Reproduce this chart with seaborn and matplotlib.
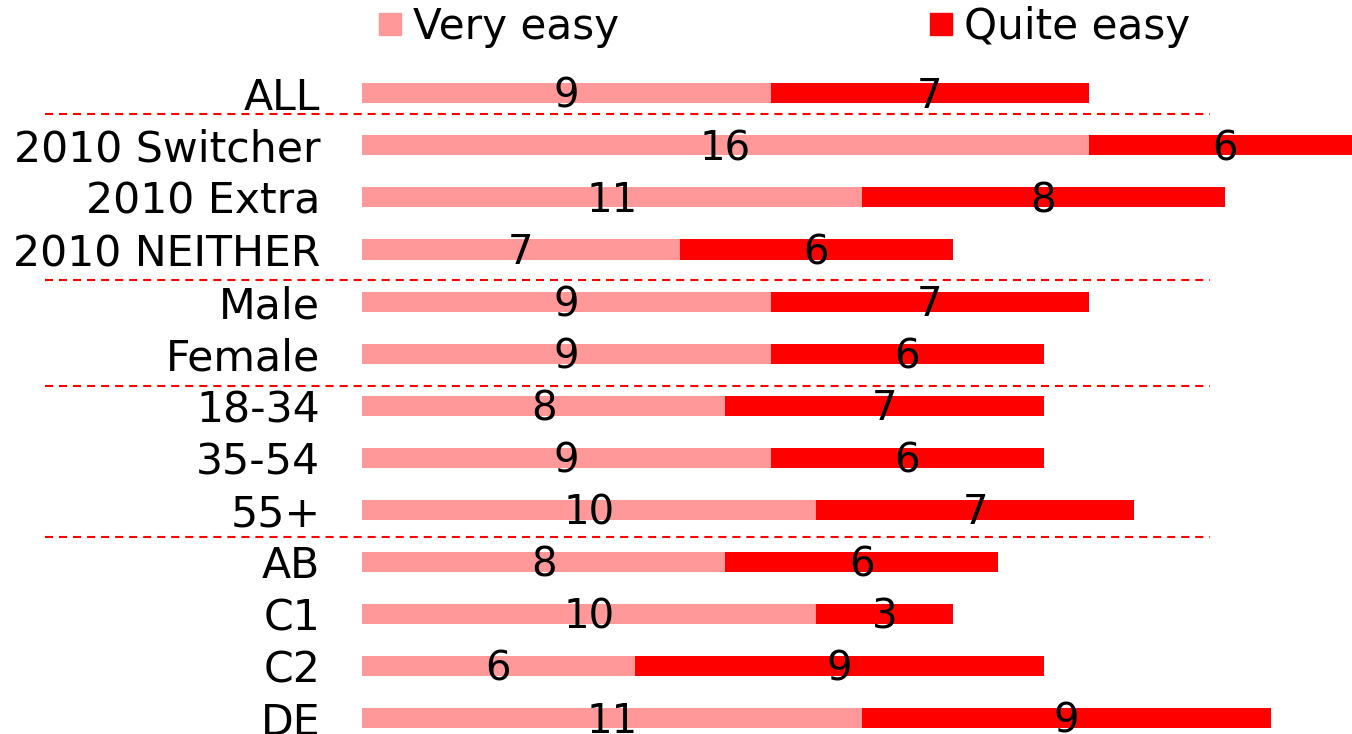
import matplotlib
matplotlib.use("Agg")
import matplotlib.pyplot as plt
import matplotlib.transforms as mtransforms
from matplotlib.lines import Line2D
import seaborn as sns
import pandas as pd

# ---- data ----
categories = ["ALL", "2010 Switcher", "2010 Extra", "2010 NEITHER", "Male", "Female",
              "18-34", "35-54", "55+", "AB", "C1", "C2", "DE"]
very_easy = [9, 16, 11, 7, 9, 9, 8, 9, 10, 8, 10, 6, 11]
quite_easy = [7, 6, 8, 6, 7, 6, 7, 6, 7, 6, 3, 9, 9]
series_names = ["Very easy", "Quite easy"]
group_ends = [0, 3, 5, 8]  # separators after these rows

PINK = "#FF9999"
RED = "#FF0000"

sns.set_theme(style="white")
plt.rcParams["font.family"] = ["DejaVu Sans"]
plt.rcParams["text.color"] = "black"
plt.rcParams["lines.scale_dashes"] = False

df = pd.DataFrame({"cat": categories, "very": very_easy, "quite": quite_easy})
df["total"] = df["very"] + df["quite"]

fig = plt.figure(figsize=(13.52, 7.34), dpi=100)
ax = fig.add_axes([362 / 1352, 0.0, 1 - 362 / 1352, 1 - 67.3 / 734])

sns.barplot(data=df, x="total", y="cat", order=categories, orient="h",
            color=RED, saturation=1, width=0.385, ax=ax, linewidth=0)
sns.barplot(data=df, x="very", y="cat", order=categories, orient="h",
            color=PINK, saturation=1, width=0.385, ax=ax, linewidth=0)

ax.set_xlim(0, 21.79)
ax.set_ylim(12.307, -0.5)
ax.set_xlabel("")
ax.set_ylabel("")
ax.set_xticks([])
ax.tick_params(axis="y", length=0, pad=30, labelsize=30.7, colors="black")
for s in ax.spines.values():
    s.set_visible(False)

# value labels
for i, (v, q) in enumerate(zip(very_easy, quite_easy)):
    ax.text(v / 2, i + 0.07, str(v), ha="center", va="center", fontsize=29, color="black")
    ax.text(v + q / 2, i + 0.07, str(q), ha="center", va="center", fontsize=29, color="black")

# dashed separators
sep_offsets = {0: 0.39, 3: 0.59, 5: 0.62, 8: 0.52}
trans = mtransforms.blended_transform_factory(fig.transFigure, ax.transData)
for g in group_ends:
    y = g + sep_offsets[g]
    ax.plot([45 / 1352, 1210 / 1352], [y, y], transform=trans, color=RED,
            linestyle=(0, (5.8, 4.3)), linewidth=1.5, clip_on=False)

# legend
handles = [Line2D([], [], marker="s", linestyle="", markersize=16,
                  markerfacecolor=c, markeredgecolor=c) for c in (PINK, RED)]
fig.legend(handles, series_names, loc="center left",
           bbox_to_anchor=(377 / 1352, 1 - 27 / 734), ncol=2, frameon=False,
           fontsize=30.3, handlelength=0.6, handletextpad=0.25, columnspacing=7.35,
           borderpad=0, borderaxespad=0, labelcolor="black")

fig.savefig("out.png", dpi=100)
